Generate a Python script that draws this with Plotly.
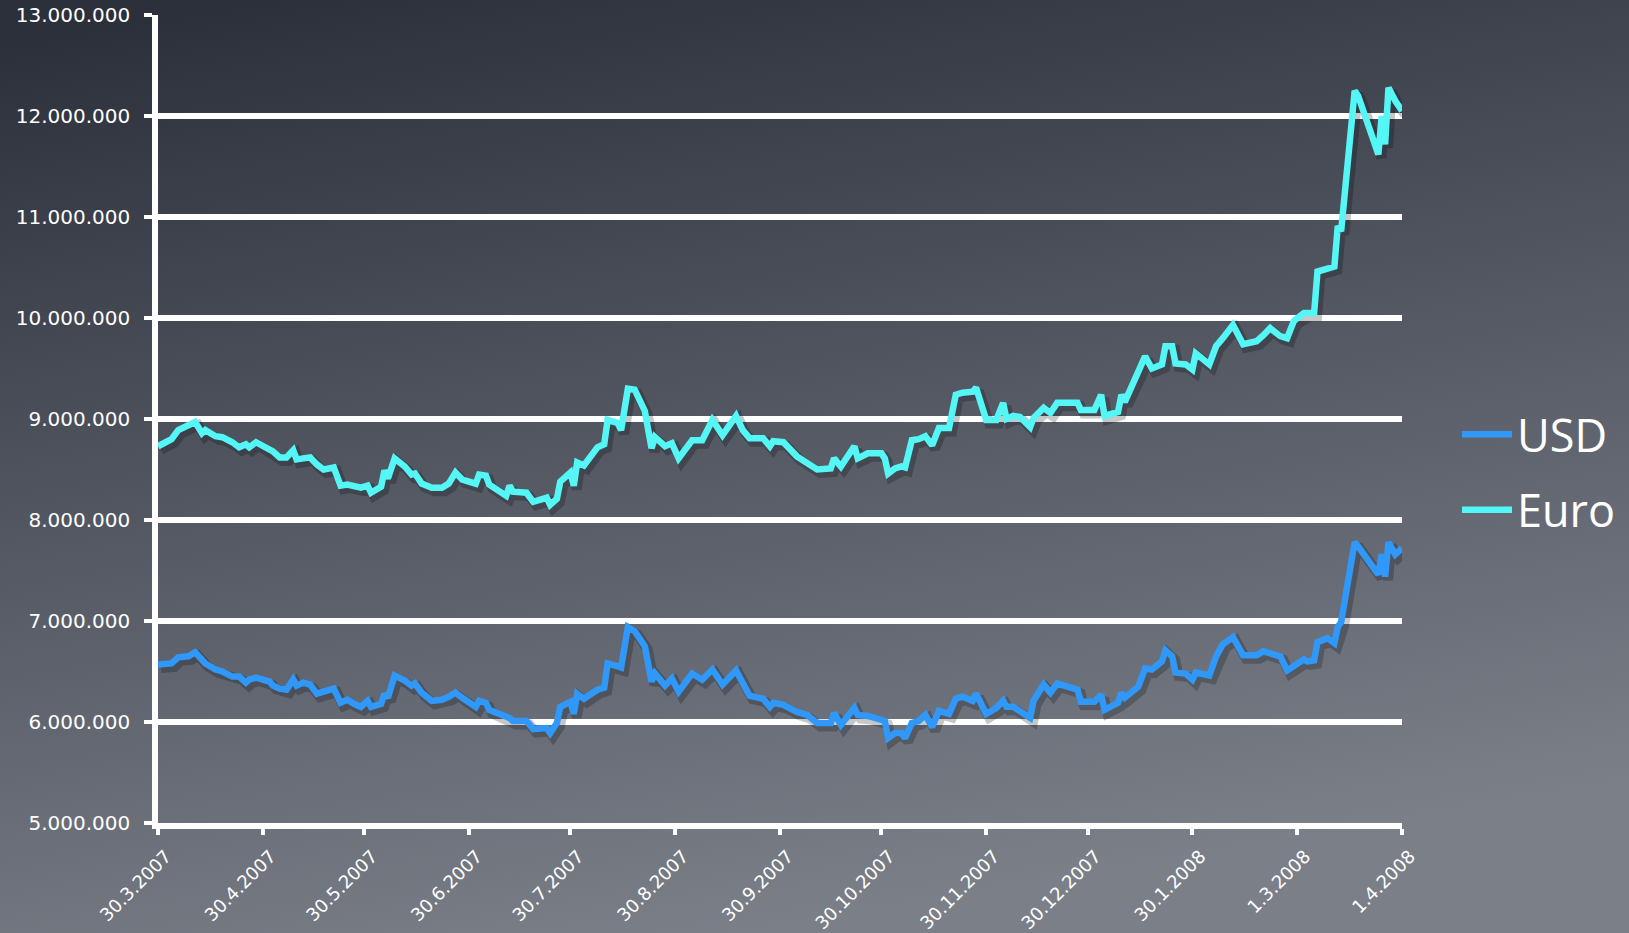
import base64
import pandas as pd
import plotly.graph_objects as go

# ---------------- data (values in millions) ----------------
dates = [
    "2007-03-30", "2007-04-03", "2007-04-05", "2007-04-08", "2007-04-10", "2007-04-12", "2007-04-13",
    "2007-04-16", "2007-04-18", "2007-04-21", "2007-04-23", "2007-04-25", "2007-04-26", "2007-04-28",
    "2007-04-30", "2007-05-02", "2007-05-03", "2007-05-05", "2007-05-07", "2007-05-09", "2007-05-10",
    "2007-05-12", "2007-05-14", "2007-05-16", "2007-05-18", "2007-05-21", "2007-05-23", "2007-05-25",
    "2007-05-27", "2007-05-29", "2007-05-31", "2007-06-01", "2007-06-04", "2007-06-05", "2007-06-06",
    "2007-06-08", "2007-06-11", "2007-06-13", "2007-06-14", "2007-06-16", "2007-06-19", "2007-06-22",
    "2007-06-24", "2007-06-26", "2007-06-28", "2007-07-02", "2007-07-03", "2007-07-05", "2007-07-06",
    "2007-07-09", "2007-07-11", "2007-07-12", "2007-07-13", "2007-07-17", "2007-07-19", "2007-07-23",
    "2007-07-24", "2007-07-26", "2007-07-27", "2007-07-30", "2007-07-31", "2007-08-01", "2007-08-03",
    "2007-08-07", "2007-08-09", "2007-08-10", "2007-08-13", "2007-08-14", "2007-08-16", "2007-08-18",
    "2007-08-21", "2007-08-23", "2007-08-24", "2007-08-27", "2007-08-29", "2007-08-31", "2007-09-04",
    "2007-09-07", "2007-09-10", "2007-09-13", "2007-09-17", "2007-09-19", "2007-09-21", "2007-09-25",
    "2007-09-27", "2007-09-28", "2007-10-01", "2007-10-05", "2007-10-08", "2007-10-11", "2007-10-15",
    "2007-10-16", "2007-10-18", "2007-10-22", "2007-10-23", "2007-10-26", "2007-10-30", "2007-10-31",
    "2007-11-01", "2007-11-03", "2007-11-05", "2007-11-06", "2007-11-08", "2007-11-10", "2007-11-12",
    "2007-11-14", "2007-11-16", "2007-11-19", "2007-11-21", "2007-11-23", "2007-11-26", "2007-11-27",
    "2007-11-30", "2007-12-03", "2007-12-05", "2007-12-06", "2007-12-08", "2007-12-10", "2007-12-13",
    "2007-12-14", "2007-12-17", "2007-12-19", "2007-12-21", "2007-12-27", "2007-12-28", "2008-01-01",
    "2008-01-03", "2008-01-04", "2008-01-08", "2008-01-09", "2008-01-10", "2008-01-14", "2008-01-16",
    "2008-01-18", "2008-01-21", "2008-01-22", "2008-01-24", "2008-01-25", "2008-01-28", "2008-01-30",
    "2008-01-31", "2008-02-04", "2008-02-06", "2008-02-08", "2008-02-11", "2008-02-14", "2008-02-18",
    "2008-02-20", "2008-02-22", "2008-02-25", "2008-02-27", "2008-02-29", "2008-03-03", "2008-03-04",
    "2008-03-06", "2008-03-07", "2008-03-10", "2008-03-12", "2008-03-13", "2008-03-14", "2008-03-18",
    "2008-03-19", "2008-03-25", "2008-03-26", "2008-03-27", "2008-03-28", "2008-03-30", "2008-04-01",
]

euro = [
    8.73, 8.80, 8.89, 8.93, 8.97, 8.86, 8.89,
    8.83, 8.82, 8.77, 8.72, 8.75, 8.72, 8.77,
    8.73, 8.70, 8.68, 8.62, 8.62, 8.69, 8.60,
    8.61, 8.62, 8.55, 8.50, 8.52, 8.34, 8.35,
    8.33, 8.32, 8.34, 8.27, 8.33, 8.49, 8.41,
    8.61, 8.53, 8.45, 8.46, 8.36, 8.32, 8.32,
    8.36, 8.47, 8.40, 8.36, 8.45, 8.44, 8.35,
    8.28, 8.24, 8.34, 8.28, 8.27, 8.18, 8.22,
    8.15, 8.21, 8.38, 8.47, 8.34, 8.57, 8.54,
    8.72, 8.75, 8.99, 8.96, 8.89, 9.30, 9.29,
    9.08, 8.71, 8.82, 8.73, 8.76, 8.61, 8.79,
    8.79, 8.99, 8.84, 9.03, 8.89, 8.81, 8.81,
    8.73, 8.78, 8.77, 8.63, 8.57, 8.50, 8.51,
    8.61, 8.53, 8.73, 8.61, 8.66, 8.66, 8.61,
    8.46, 8.51, 8.53, 8.52, 8.79, 8.80, 8.83,
    8.74, 8.91, 8.91, 9.24, 9.26, 9.27, 9.31,
    8.99, 8.99, 9.16, 9.00, 9.03, 9.02, 8.92,
    9.01, 9.11, 9.06, 9.16, 9.16, 9.09, 9.09,
    9.24, 9.03, 9.07, 9.24, 9.17, 9.45, 9.62,
    9.50, 9.54, 9.72, 9.72, 9.55, 9.54, 9.49,
    9.65, 9.54, 9.72, 9.80, 9.93, 9.74, 9.77,
    9.83, 9.90, 9.82, 9.80, 9.97, 10.05, 10.05,
    10.05, 10.46, 10.49, 10.51, 10.91, 10.86, 12.25,
    12.20, 11.62, 12.00, 11.72, 12.28, 12.15, 12.05,
]

usd = [
    6.57, 6.58, 6.64, 6.65, 6.69, 6.62, 6.58,
    6.52, 6.50, 6.45, 6.45, 6.39, 6.42, 6.44,
    6.42, 6.40, 6.36, 6.33, 6.32, 6.42, 6.36,
    6.39, 6.37, 6.28, 6.30, 6.33, 6.19, 6.22,
    6.18, 6.15, 6.21, 6.15, 6.18, 6.28, 6.24,
    6.46, 6.41, 6.36, 6.38, 6.29, 6.21, 6.22,
    6.25, 6.29, 6.24, 6.15, 6.21, 6.19, 6.12,
    6.08, 6.06, 6.04, 6.01, 6.01, 5.93, 5.94,
    5.89, 5.99, 6.15, 6.20, 6.08, 6.28, 6.23,
    6.32, 6.34, 6.58, 6.55, 6.54, 6.94, 6.90,
    6.75, 6.40, 6.48, 6.36, 6.43, 6.30, 6.48,
    6.42, 6.52, 6.37, 6.51, 6.38, 6.26, 6.23,
    6.15, 6.19, 6.17, 6.10, 6.07, 5.99, 5.99,
    6.09, 5.97, 6.14, 6.07, 6.06, 6.03, 6.01,
    5.84, 5.89, 5.89, 5.84, 5.99, 6.01, 6.07,
    5.95, 6.11, 6.08, 6.23, 6.25, 6.21, 6.28,
    6.08, 6.14, 6.21, 6.15, 6.15, 6.11, 6.04,
    6.21, 6.37, 6.29, 6.38, 6.32, 6.20, 6.20,
    6.27, 6.12, 6.19, 6.29, 6.24, 6.35, 6.53,
    6.52, 6.60, 6.71, 6.65, 6.49, 6.48, 6.42,
    6.49, 6.46, 6.65, 6.77, 6.84, 6.66, 6.66,
    6.70, 6.68, 6.65, 6.51, 6.56, 6.62, 6.60,
    6.61, 6.79, 6.83, 6.78, 6.94, 6.99, 7.78,
    7.74, 7.46, 7.66, 7.44, 7.78, 7.66, 7.72,
]

tick_dates = ["2007-03-30", "2007-04-30", "2007-05-30", "2007-06-30", "2007-07-30", "2007-08-30",
              "2007-09-30", "2007-10-30", "2007-11-30", "2007-12-30", "2008-01-30", "2008-03-01",
              "2008-04-01"]
tick_labels = ["30.3.2007", "30.4.2007", "30.5.2007", "30.6.2007", "30.7.2007", "30.8.2007",
               "30.9.2007", "30.10.2007", "30.11.2007", "30.12.2007", "30.1.2008", "1.3.2008",
               "1.4.2008"]
series_names = ["USD", "Euro"]
series_colors = ["#2f98f8", "#55f6f6"]

# ---------------- figure ----------------
W, H = 1629, 933
ML, MR, MT, MB = 158, 227, 15, 110
plot_w = W - ML - MR
plot_h = H - MT - MB

x0 = pd.Timestamp("2007-03-30")
x1 = pd.Timestamp("2008-04-01")
y0, y1 = 5e6, 13e6

# shadow overlay axes: shift drawn data ~3px right and ~3.5px down
day_px = plot_w / ((x1 - x0).days)
dx = pd.Timedelta(days=3.0 / day_px)
dy = 3.5 * (y1 - y0) / plot_h

svg = (
    "<svg xmlns='http://www.w3.org/2000/svg' width='1629' height='933' preserveAspectRatio='none'>"
    "<defs><linearGradient id='g' x1='0.15' y1='0' x2='0.45' y2='1'>"
    "<stop offset='0' stop-color='#2b303b'/>"
    "<stop offset='0.45' stop-color='#4f545f'/>"
    "<stop offset='1' stop-color='#7b7f88'/>"
    "</linearGradient></defs>"
    "<rect x='0' y='0' width='1629' height='933' fill='url(#g)'/></svg>"
)
bg_src = "data:image/svg+xml;base64," + base64.b64encode(svg.encode()).decode()

fig = go.Figure()

# empty trace so the visible base axes (ticks, grid) are registered and drawn
fig.add_trace(go.Scatter(x=[], y=[], mode="lines", showlegend=False, hoverinfo="skip"))

series = [usd, euro]
# soft drop shadows (drawn on an overlay pair of axes shifted by a few pixels)
for vals, name, col in zip(series, series_names, series_colors):
    fig.add_trace(go.Scatter(
        x=dates, y=[v * 1e6 for v in vals], mode="lines",
        line=dict(color="rgba(0,0,0,0.22)", width=10),
        xaxis="x2", yaxis="y2", showlegend=False, hoverinfo="skip",
    ))

# main lines on a third overlay with the same ranges as the visible axes (drawn on top)
for vals, name, col in zip(series, series_names, series_colors):
    fig.add_trace(go.Scatter(
        x=dates, y=[v * 1e6 for v in vals], mode="lines", name=name,
        legendgroup=name, xaxis="x3", yaxis="y3",
        line=dict(color=col, width=6.5),
    ))

fig.update_layout(
    width=W, height=H,
    margin=dict(l=ML, r=MR, t=MT, b=MB, autoexpand=False),
    paper_bgcolor="#4f545f",
    plot_bgcolor="rgba(0,0,0,0)",
    separators=",.",
    images=[dict(
        source=bg_src, xref="paper", yref="paper",
        x=-ML / plot_w, y=1 + MT / plot_h,
        sizex=W / plot_w, sizey=H / plot_h,
        xanchor="left", yanchor="top", sizing="stretch", layer="below",
    )],
    xaxis=dict(
        type="date", range=[x0, x1], automargin=False,
        tickmode="array", tickvals=tick_dates, ticktext=tick_labels,
        tickangle=-45, tickfont=dict(family="DejaVu Sans", size=18, color="white"),
        ticklabelstandoff=4, ticklabelshift=8,
        showgrid=False, zeroline=False,
        showline=True, linecolor="white", linewidth=5.5,
        ticks="outside", ticklen=6, tickwidth=4, tickcolor="white",
    ),
    yaxis=dict(
        range=[y0, y1], tickmode="linear", tick0=5e6, dtick=1e6, automargin=False,
        tickformat=",.0f",
        tickfont=dict(family="DejaVu Sans", size=20, color="white"),
        ticklabelstandoff=10,
        showgrid=True, gridcolor="white", gridwidth=5.5,
        zeroline=False, showline=True, linecolor="white", linewidth=5.5,
        ticks="outside", ticklen=8, tickwidth=4, tickcolor="white",
    ),
    xaxis2=dict(overlaying="x", range=[x0 - dx, x1 - dx], visible=False, type="date"),
    yaxis2=dict(overlaying="y", range=[y0 + dy, y1 + dy], visible=False),
    xaxis3=dict(overlaying="x", range=[x0, x1], visible=False, type="date"),
    yaxis3=dict(overlaying="y", range=[y0, y1], visible=False),
    showlegend=True,
    legend=dict(
        x=(1457 - ML) / plot_w, y=1 - (472 - MT) / plot_h, xanchor="left", yanchor="middle",
        font=dict(family="Open Sans", size=45, color="white"),
        bgcolor="rgba(0,0,0,0)", traceorder="grouped", tracegroupgap=14,
        itemwidth=50,
    ),
)

fig.write_html("out.html", config={"displayModeBar": False},
               post_script="document.body.style.margin='0';")
